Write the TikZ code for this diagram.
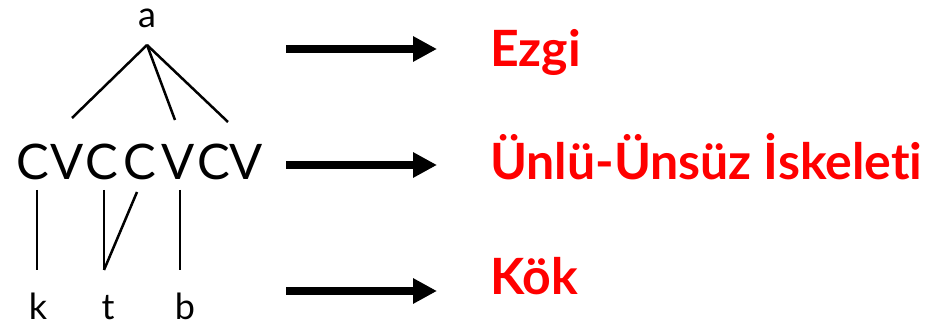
\documentclass[tikz,border=0pt]{standalone}
\usepackage{fontspec}
\setmainfont{Lato}[Ligatures=NoCommon]
\usetikzlibrary{arrows.meta}

\begin{document}
\begin{tikzpicture}[x=1pt,y=-1pt,
        seg/.style={line width=2.5pt},
        slot/.style={inner sep=0pt,anchor=base,font=\fontsize{49}{49}\selectfont},
        phon/.style={inner sep=0pt,anchor=base,font=\fontsize{36}{36}\selectfont},
        tier/.style={inner sep=0pt,anchor=base west,text=red,font=\fontsize{50}{50}\selectfont\bfseries},
        bigarrow/.style={line width=8pt,-{Triangle[length=24pt,width=24pt]},shorten >=53pt}]
    \useasboundingbox (0,0) rectangle (945,328);
    % melody, skeleton, root
    \node[phon] (a) at (147,28) {a};
    \node[slot] (c1) at (33,180) {C};
    \node[slot] (v1) at (67,180) {V};
    \node[slot] (c2) at (102,180) {C};
    \node[slot] (c3) at (140,180) {C};
    \node[slot] (v2) at (178,180) {V};
    \node[slot] (c4) at (214,180) {C};
    \node[slot] (v3) at (246,180) {V};
    \node[phon] (k) at (38,320) {k};
    \node[phon] (t) at (108,320) {t};
    \node[phon] (b) at (185,320) {b};
    \draw[seg] ([yshift=-17pt]a.base) -- ([xshift=5pt,yshift=62pt]v1.base);
    \draw[seg] ([yshift=-17pt]a.base) -- ([xshift=-3pt,yshift=60pt]v2.base);
    \draw[seg] ([yshift=-17pt]a.base) -- ([xshift=-18pt,yshift=58pt]v3.base);
    \draw[seg] ([xshift=4pt,yshift=-10pt]c1.base) -- ([xshift=-1pt,yshift=50pt]k.base);
    \draw[seg] ([xshift=2pt,yshift=-10pt]c2.base) -- ([xshift=-4pt,yshift=50pt]t.base);
    \draw[seg] ([xshift=-3pt,yshift=-12pt]c3.base) -- ([xshift=-4pt,yshift=50pt]t.base);
    \draw[seg] ([xshift=2pt,yshift=-10pt]v2.base) -- ([xshift=-5pt,yshift=50pt]b.base);
    % tier labels
    \node[tier] (ezgi) at (490,67) {Ezgi};
    \node[tier] (iskelet) at (490,180) {Ünlü-Ünsüz İskeleti};
    \node[tier] (kok) at (490,295) {Kök};
    \coordinate (e1) at (286,49);
    \coordinate (e2) at (286,165);
    \coordinate (e3) at (286,291);
    \draw[bigarrow] (e1) -- (e1 -| ezgi.west);
    \draw[bigarrow] (e2) -- (e2 -| iskelet.west);
    \draw[bigarrow] (e3) -- (e3 -| kok.west);
\end{tikzpicture}
\end{document}
